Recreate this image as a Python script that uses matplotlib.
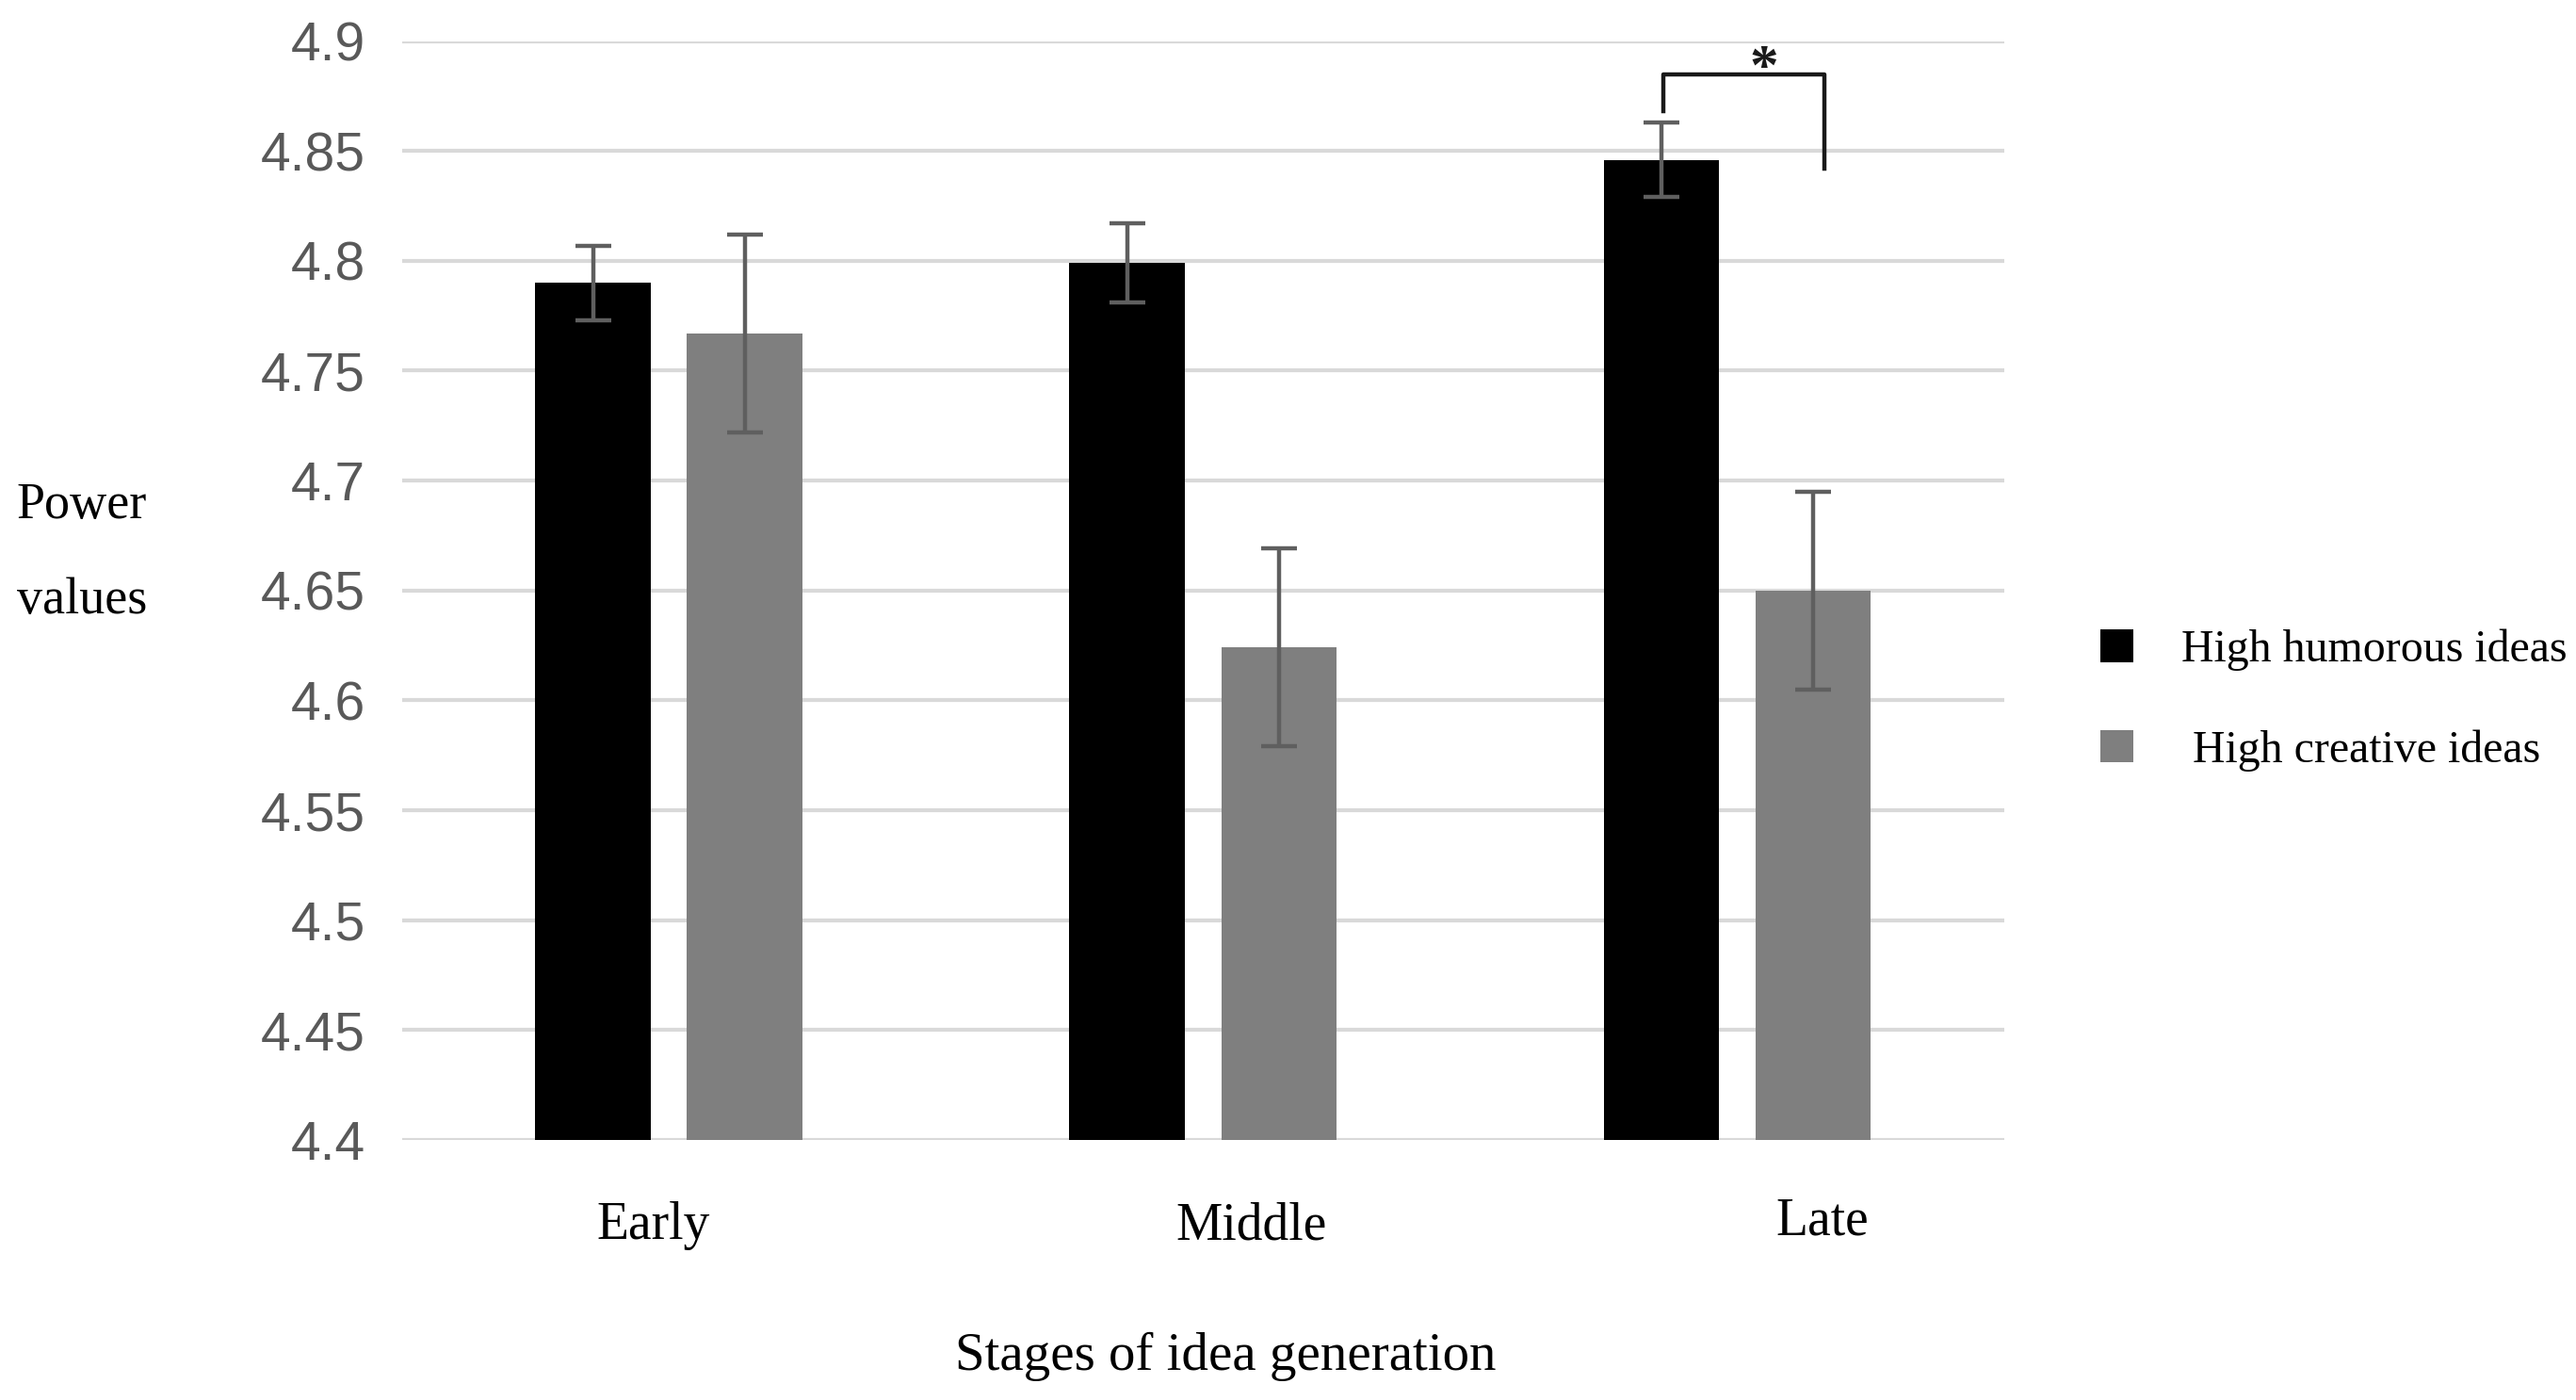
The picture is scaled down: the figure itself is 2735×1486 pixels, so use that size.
import matplotlib
matplotlib.use("Agg")
import matplotlib.pyplot as plt
from matplotlib import font_manager
import numpy as np

categories = ["Early", "Middle", "Late"]
humorous = [4.790, 4.799, 4.846]
humorous_err = [0.017, 0.018, 0.017]
creative = [4.767, 4.624, 4.650]
creative_err = [0.045, 0.045, 0.045]
yticks = [4.4, 4.45, 4.5, 4.55, 4.6, 4.65, 4.7, 4.75, 4.8, 4.85, 4.9]
yticklabels = ["4.4", "4.45", "4.5", "4.55", "4.6", "4.65", "4.7", "4.75", "4.8", "4.85", "4.9"]

serif = "Liberation Serif"
names = {f.name for f in font_manager.fontManager.ttflist}
if "Liberation Sans Narrow" in names:
    tick_family, tick_size = "Liberation Sans Narrow", 45
else:
    tick_family, tick_size = "Liberation Sans", 41

fig = plt.figure(figsize=(27.35, 14.86), dpi=100)
ax = fig.add_axes([0.156, 0.1857, 0.622, 0.785])

x = np.arange(len(categories))
w = 0.216
off = 0.142
base = 4.4
ekw = dict(ecolor="#5f5f5f", elinewidth=3.2, capsize=14, capthick=3.2)
b1 = ax.bar(x - off, np.array(humorous) - base, w, bottom=base, color="black",
            yerr=humorous_err, error_kw=ekw, zorder=3, label="High humorous ideas")
b2 = ax.bar(x + off, np.array(creative) - base, w, bottom=base, color="#7f7f7f",
            yerr=creative_err, error_kw=ekw, zorder=3, label=" High creative ideas")

ax.set_xlim(-0.5, 2.5)
ax.set_ylim(4.4, 4.9)
ax.set_yticks(yticks)
ax.set_yticklabels(yticklabels, fontsize=tick_size, color="#595959", family=tick_family)
ax.tick_params(axis="y", length=0, pad=28)
ax.set_xticks([])
for s in ax.spines.values():
    s.set_visible(False)
ax.yaxis.grid(True, color="#d9d9d9", linewidth=3, zorder=0)
ax.set_axisbelow(True)

# category labels (slightly offset as in the original)
label_x = [-0.03, 1.09, 2.16]
label_y = [4.361, 4.361, 4.363]
for lx, ly, lab in zip(label_x, label_y, categories):
    ax.text(lx, ly, lab, ha="center", va="center", fontsize=40, family=serif, clip_on=False)

fig.text(0.4757, 0.031, "Stages of idea generation", ha="center", va="center",
         fontsize=41, family=serif)
fig.text(0.0065, 0.639, "Power", ha="left", va="center", fontsize=39, family=serif)
fig.text(0.0065, 0.571, "values", ha="left", va="center", fontsize=39, family=serif)

# significance bracket
bx = [1.862, 1.862, 2.164, 2.164]
by = [4.868, 4.885, 4.885, 4.842]
ax.plot(bx, by, color="#1a1a1a", linewidth=3.2, clip_on=False, zorder=4)
ax.text(2.05, 4.887, "*", ha="center", va="center", fontsize=44, family=serif,
        fontweight="bold", color="#1a1a1a", clip_on=False)

fig.legend(handles=[b1, b2], loc="center left", bbox_to_anchor=(0.7996, 0.50),
           frameon=False, prop={"family": serif, "size": 34.5},
           handlelength=0.74, handleheight=0.74, handletextpad=1.05,
           labelspacing=1.3)

fig.savefig("out.png", dpi=100)
